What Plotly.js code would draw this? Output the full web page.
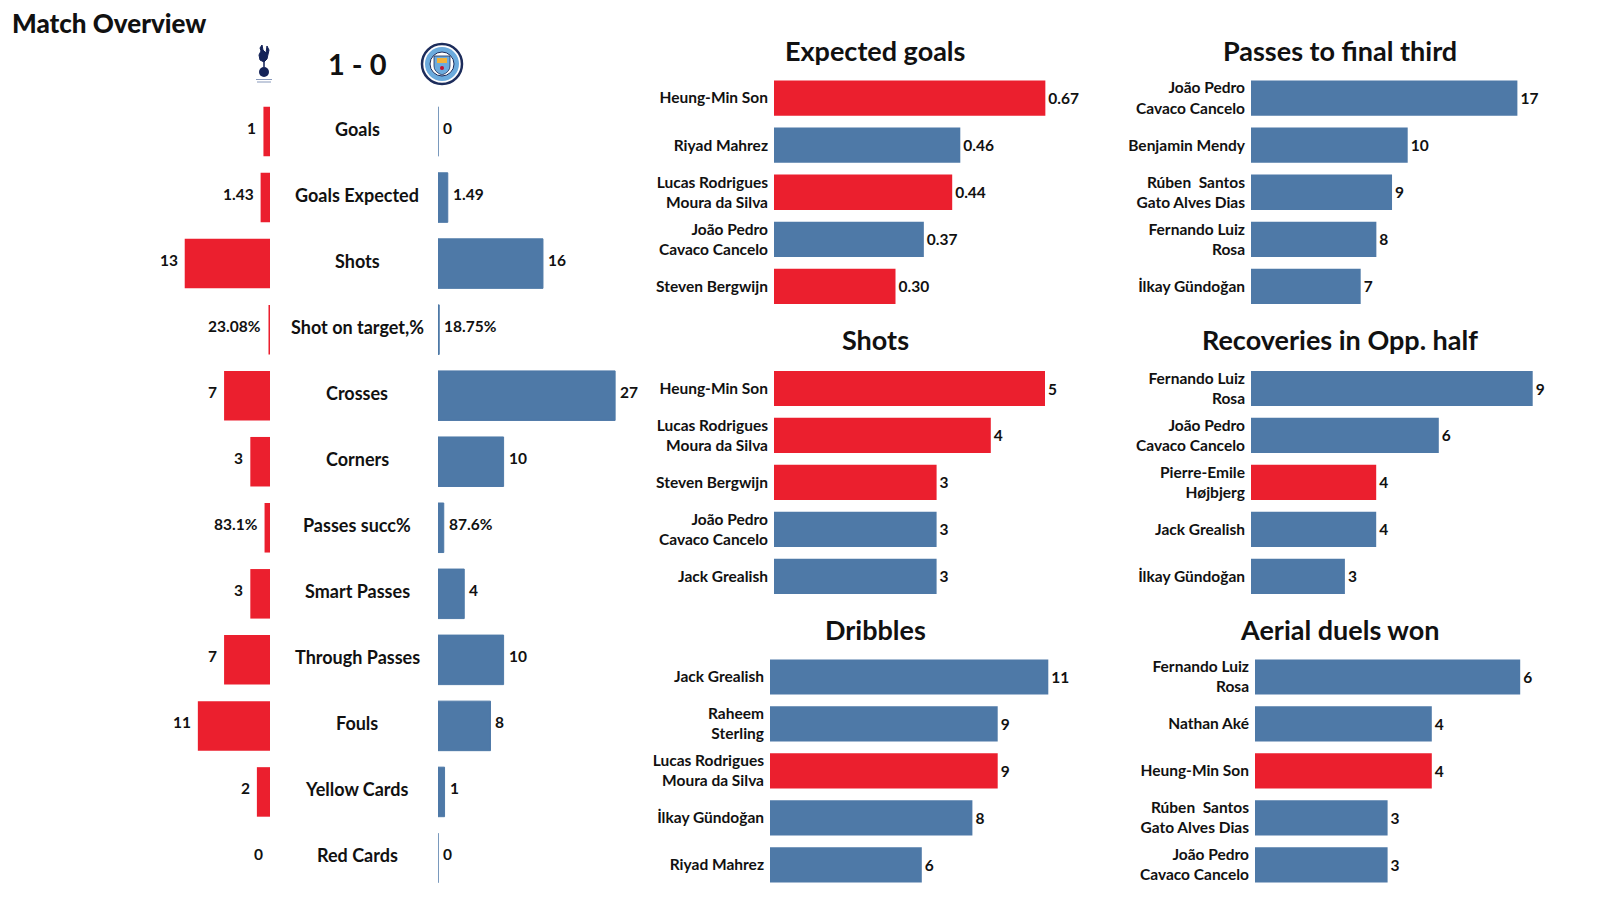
<!DOCTYPE html>
<html>
<head>
<meta charset="utf-8">
<script src="https://cdn.plot.ly/plotly-3.0.1.min.js"></script>
<style>html,body{margin:0;padding:0;background:#fff;}#chart{width:1600px;height:900px;}</style>
</head>
<body>
<div id="chart"></div>
<script>
// ---------- DATA ----------
const homeTeam = 'Tottenham';
const awayTeam = 'Manchester City';
const homeGoals = 1;
const awayGoals = 0;

const statNames = ['Goals','Goals Expected','Shots','Shot on target,%','Crosses','Corners','Passes succ%','Smart Passes','Through Passes','Fouls','Yellow Cards','Red Cards'];
const spursStats = [1, 1.43, 13, 23.08, 7, 3, 83.1, 3, 7, 11, 2, 0];
const cityStats  = [0, 1.49, 16, 18.75, 27, 10, 87.6, 4, 10, 8, 1, 0];
const statIsPercent = [false,false,false,true,false,false,true,false,false,false,false,false];

const xgPlayers = ['Heung-Min Son','Riyad Mahrez','Lucas Rodrigues<br>Moura da Silva','João Pedro<br>Cavaco Cancelo','Steven Bergwijn'];
const xgValues  = [0.67, 0.46, 0.44, 0.37, 0.30];
const xgTeams   = ['T','C','T','C','T'];

const finalThirdPlayers = ['João Pedro<br>Cavaco Cancelo','Benjamin Mendy','Rúben\u00a0 Santos<br>Gato Alves Dias','Fernando Luiz<br>Rosa','İlkay Gündoğan'];
const finalThirdValues  = [17, 10, 9, 8, 7];
const finalThirdTeams   = ['C','C','C','C','C'];

const shotsPlayers = ['Heung-Min Son','Lucas Rodrigues<br>Moura da Silva','Steven Bergwijn','João Pedro<br>Cavaco Cancelo','Jack Grealish'];
const shotsValues  = [5, 4, 3, 3, 3];
const shotsTeams   = ['T','T','T','C','C'];

const recoveriesPlayers = ['Fernando Luiz<br>Rosa','João Pedro<br>Cavaco Cancelo','Pierre-Emile<br>Højbjerg','Jack Grealish','İlkay Gündoğan'];
const recoveriesValues  = [9, 6, 4, 4, 3];
const recoveriesTeams   = ['C','C','T','C','C'];

const dribblesPlayers = ['Jack Grealish','Raheem<br>Sterling','Lucas Rodrigues<br>Moura da Silva','İlkay Gündoğan','Riyad Mahrez'];
const dribblesValues  = [11, 9, 9, 8, 6];
const dribblesTeams   = ['C','C','T','C','C'];

const aerialPlayers = ['Fernando Luiz<br>Rosa','Nathan Aké','Heung-Min Son','Rúben\u00a0 Santos<br>Gato Alves Dias','João Pedro<br>Cavaco Cancelo'];
const aerialValues  = [6, 4, 4, 3, 3];
const aerialTeams   = ['C','C','T','C','C'];

// ---------- STYLE / LAYOUT ----------
const RED = '#EB1F2E';
const BLUE = '#4E79A7';
const FONT = 'Lato, "Open Sans", sans-serif';
const W = 1600, H = 900;
const px = v => v / W;
const py = v => 1 - v / H;

const teamColor = t => (t === 'T' ? RED : BLUE);

const traces = [];
const annotations = [];
const shapes = [];
const layout = {
  width: W, height: H,
  margin: {l: 0, r: 0, t: 0, b: 0},
  paper_bgcolor: '#fff', plot_bgcolor: 'rgba(0,0,0,0)',
  showlegend: false,
  bargap: 0.25,
  font: {family: FONT, color: '#111'},
  annotations: annotations,
  shapes: shapes
};

// ---------- LEFT PANEL: match overview ----------
const ovScale = 6.56; // px per unit
const spursLen = spursStats.map((v, i) => statIsPercent[i] ? v / 100 : v);
const cityLen  = cityStats.map((v, i) => statIsPercent[i] ? v / 100 : v);
const fmtStat = (v, i) => statIsPercent[i] ? v + '%' : String(v);

const valFont = {family: FONT, size: 15.5, color: '#111', weight: 'bold'};

traces.push({
  type: 'bar', orientation: 'h', y: statNames, x: spursLen,
  xaxis: 'x', yaxis: 'y',
  marker: {color: RED}, hoverinfo: 'skip'
});
traces.push({
  type: 'bar', orientation: 'h', y: statNames, x: cityLen,
  xaxis: 'x2', yaxis: 'y',
  marker: {color: BLUE, line: {color: BLUE, width: 1}}, hoverinfo: 'skip'
});

const hidden = {visible: false, showgrid: false, zeroline: false, fixedrange: true};
layout.xaxis  = Object.assign({}, hidden, {domain: [0, px(270)], range: [270 / ovScale, 0], anchor: 'y'});
layout.xaxis2 = Object.assign({}, hidden, {domain: [px(438), px(640)], range: [0, 202 / ovScale], anchor: 'y'});
layout.yaxis  = {type: 'category', categoryarray: statNames, categoryorder: 'array',
  domain: [py(891), py(98.5)], range: [statNames.length - 0.5, -0.5], anchor: 'x',
  showticklabels: false, showgrid: false, zeroline: false, showline: false, ticks: '', fixedrange: true};

statNames.forEach((name, i) => {
  annotations.push({xref: 'paper', yref: 'y', x: px(357), y: name, text: name, showarrow: false, yshift: 3,
    xanchor: 'center', yanchor: 'middle', font: {family: FONT, size: 18, color: '#111', weight: 'bold'}});
  annotations.push({xref: 'x', yref: 'y', x: spursLen[i], y: name, text: fmtStat(spursStats[i], i), showarrow: false,
    xanchor: 'right', yanchor: 'middle', xshift: -5, yshift: 4, font: valFont});
  annotations.push({xref: 'x2', yref: 'y', x: cityLen[i], y: name, text: fmtStat(cityStats[i], i), showarrow: false,
    xanchor: 'left', yanchor: 'middle', xshift: 3, yshift: 4, font: valFont});
});

// Title and score
annotations.push({xref: 'paper', yref: 'paper', x: px(10), y: py(23), text: 'Match Overview', showarrow: false,
  xanchor: 'left', yanchor: 'middle', font: {family: FONT, size: 26, color: '#111', weight: 900}});
annotations.push({xref: 'paper', yref: 'paper', x: px(357), y: py(63), text: homeGoals + ' - ' + awayGoals, showarrow: false,
  xanchor: 'center', yanchor: 'middle', font: {family: FONT, size: 29, color: '#111', weight: 'bold'}});

// Simple badges
const P = (x, y) => px(x).toFixed(5) + ',' + py(y).toFixed(5);
const NAVY = '#132257';
// Tottenham cockerel on ball
shapes.push({type: 'circle', xref: 'paper', yref: 'paper', x0: px(259), x1: px(269), y0: py(77), y1: py(67), fillcolor: NAVY, line: {width: 0}});
shapes.push({type: 'path', xref: 'paper', yref: 'paper',
  path: 'M' + P(260, 48) + ' L' + P(262, 45) + ' L' + P(263, 50) + ' L' + P(266, 53) + ' L' + P(267, 46) + ' L' + P(269, 50) + ' L' + P(267, 59) + ' L' + P(264, 62) + ' L' + P(260, 60) + ' L' + P(259, 55) + ' L' + P(261, 51) + ' Z',
  fillcolor: NAVY, line: {color: NAVY, width: 1}});
shapes.push({type: 'line', xref: 'paper', yref: 'paper', x0: px(264), x1: px(264), y0: py(61), y1: py(67), line: {color: NAVY, width: 1.5}});
shapes.push({type: 'line', xref: 'paper', yref: 'paper', x0: px(256), x1: px(272), y0: py(79.5), y1: py(79.5), line: {color: '#8899bb', width: 1}});
shapes.push({type: 'line', xref: 'paper', yref: 'paper', x0: px(257), x1: px(271), y0: py(82), y1: py(82), line: {color: '#8899bb', width: 1}});
// Manchester City badge
shapes.push({type: 'circle', xref: 'paper', yref: 'paper', x0: px(422), x1: px(462), y0: py(84), y1: py(44), fillcolor: '#ffffff', line: {color: '#1C2C5B', width: 2.5}});
shapes.push({type: 'circle', xref: 'paper', yref: 'paper', x0: px(425), x1: px(459), y0: py(81), y1: py(47), fillcolor: '#6CABDD', line: {color: '#6CABDD', width: 0}});
shapes.push({type: 'circle', xref: 'paper', yref: 'paper', x0: px(430), x1: px(454), y0: py(76), y1: py(52), fillcolor: '#ffffff', line: {color: '#1C2C5B', width: 1}});
shapes.push({type: 'path', xref: 'paper', yref: 'paper',
  path: 'M' + P(434, 56) + ' L' + P(450, 56) + ' L' + P(450, 66) + ' Q' + P(450, 72) + ' ' + P(442, 75) + ' Q' + P(434, 72) + ' ' + P(434, 66) + ' Z',
  fillcolor: '#6CABDD', line: {color: '#1C2C5B', width: 0.8}});
shapes.push({type: 'rect', xref: 'paper', yref: 'paper', x0: px(437), x1: px(447), y0: py(63), y1: py(58), fillcolor: '#F2B23A', line: {width: 0}});
shapes.push({type: 'circle', xref: 'paper', yref: 'paper', x0: px(440), x1: px(444), y0: py(70), y1: py(66), fillcolor: '#C8102E', line: {width: 0}});

// ---------- RIGHT PANELS ----------
const charts = [
  {title: 'Expected goals',          players: xgPlayers,         values: xgValues,         teams: xgTeams,         left: 774,  scale: 405,   top: 74.5, bottom: 310,   tx: 875,    ty: 50.5, dec: 2},
  {title: 'Passes to final third',   players: finalThirdPlayers, values: finalThirdValues, teams: finalThirdTeams, left: 1251, scale: 15.67, top: 74.5, bottom: 310,   tx: 1339.5, ty: 50.5, dec: 0},
  {title: 'Shots',                   players: shotsPlayers,      values: shotsValues,      teams: shotsTeams,      left: 774,  scale: 54.2,  top: 365,  bottom: 600,   tx: 875,    ty: 339.5, dec: 0},
  {title: 'Recoveries in Opp. half', players: recoveriesPlayers, values: recoveriesValues, teams: recoveriesTeams, left: 1251, scale: 31.3,  top: 365,  bottom: 600,   tx: 1339.5, ty: 339.5, dec: 0},
  {title: 'Dribbles',                players: dribblesPlayers,   values: dribblesValues,   teams: dribblesTeams,   left: 770,  scale: 25.3,  top: 653.5, bottom: 888.5, tx: 875,   ty: 629, dec: 0},
  {title: 'Aerial duels won',        players: aerialPlayers,     values: aerialValues,     teams: aerialTeams,     left: 1255, scale: 44.2,  top: 653.5, bottom: 888.5, tx: 1339.5, ty: 629, dec: 0}
];
const plotW = 300;

charts.forEach((c, i) => {
  const xa = 'x' + (3 + i), ya = 'y' + (2 + i);
  const xk = 'xaxis' + (3 + i), yk = 'yaxis' + (2 + i);
  traces.push({
    type: 'bar', orientation: 'h', y: c.players, x: c.values,
    xaxis: xa, yaxis: ya,
    marker: {color: c.teams.map(teamColor)},
    text: c.values.map(v => v.toFixed(c.dec)), texttemplate: '%{text}', textposition: 'outside',
    textfont: valFont, cliponaxis: false, constraintext: 'none', hoverinfo: 'skip'
  });
  layout[xk] = Object.assign({}, hidden, {domain: [px(c.left), px(c.left + plotW)], range: [0, plotW / c.scale], anchor: ya});
  layout[yk] = {type: 'category', categoryarray: c.players, categoryorder: 'array',
    domain: [py(c.bottom), py(c.top)], range: [c.players.length - 0.5, -0.5], anchor: xa,
    showgrid: false, zeroline: false, showline: false, ticks: '', ticklabelstandoff: 5,
    tickfont: {family: FONT, size: 15.5, color: '#111', weight: 'bold'}, automargin: false, fixedrange: true};
  annotations.push({xref: 'paper', yref: 'paper', x: px(c.tx), y: py(c.ty), text: c.title, showarrow: false,
    xanchor: 'center', yanchor: 'middle', font: {family: FONT, size: 27, color: '#111', weight: 'bold'}});
});

Plotly.newPlot('chart', traces, layout, {staticPlot: true, displayModeBar: false});
</script>
</body>
</html>
